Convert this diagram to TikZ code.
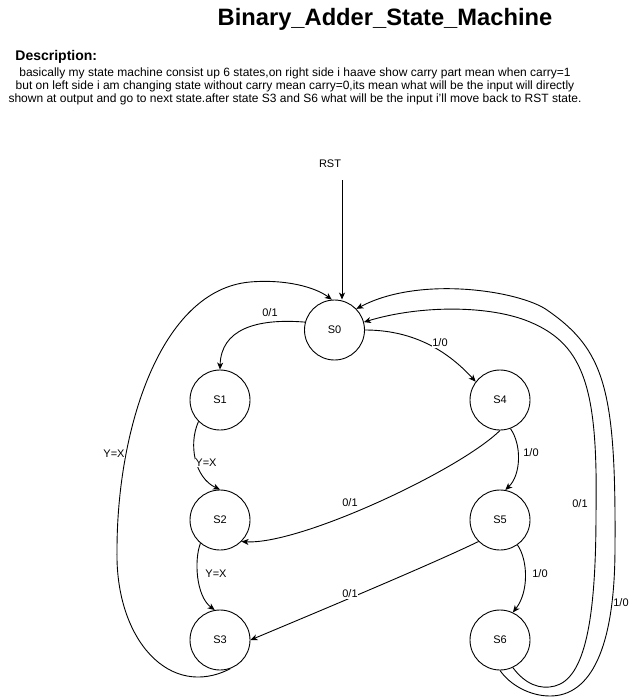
\documentclass[tikz,border=0pt]{standalone}
\usepackage{fontspec}
\setmainfont{Liberation Sans}
\usetikzlibrary{arrows.meta}

\begin{document}
\begin{tikzpicture}[x=1pt,y=-1pt,line width=0.9pt,
    state/.style={draw,circle,minimum size=60pt,inner sep=0pt,font=\fontsize{11}{13}\selectfont},
    trans/.style={-{Stealth[length=7pt,width=6pt,inset=2pt]}},
    lbl/.style={fill=white,inner sep=0.5pt,font=\fontsize{11}{13}\selectfont}]
    \useasboundingbox (0,0) rectangle (640,697);
    % heading
    \node[anchor=base,font=\bfseries\fontsize{23.7}{27}\selectfont] (title) at (385,25) {Binary\_Adder\_State\_Machine};
    \node[anchor=base west,inner sep=0pt,font=\bfseries\fontsize{14}{16}\selectfont] (deschead) at (15,60) {Description:};
    \node[align=center,inner sep=0pt,font=\fontsize{12}{13}\selectfont] (desc) at (295,86) {basically my state machine consist up 6 states,on right side i haave show carry part mean when carry=1\\but on left side i am changing state without carry mean carry=0,its mean what will be the input will directly\\shown at output and go to next state.after state S3 and S6 what will be the input i'll move back to RST state.};

    % states
    \node[state] (S0) at (334.5,330) {S0};
    \node[state] (S1) at (220,400) {S1};
    \node[state] (S2) at (220,520) {S2};
    \node[state] (S3) at (220,640) {S3};
    \node[state] (S4) at (500,400) {S4};
    \node[state] (S5) at (500,520) {S5};
    \node[state] (S6) at (500,640) {S6};
    \node[font=\fontsize{11}{13}\selectfont] (rst) at (330,164) {RST};
    \coordinate (rsttail) at (342,180);

    % transitions
    \draw[trans] (rsttail) -- (rsttail |- S0.north);
    \draw[trans] (S0.165) .. controls (255,318) and (221,330) .. (S1.north);
    \draw[trans] (S0.east) .. controls (410,330) and (445,348) .. (S4.143);
    \draw[trans] (S1.225) .. controls (188,445) and (195,478) .. (S2.north);
    \draw[trans] (S2.230) .. controls (194,560) and (196,596) .. (S3.100);
    \draw[trans] (S4.-70) .. controls (522,445) and (521,475) .. (S5.80);
    \draw[trans] (S5.-55) .. controls (528,560) and (529,592) .. (S6.65);
    \draw[trans] (S4.south) .. controls (460,470) and (300,545) .. (S2.-45);
    \draw[trans] (S5.-135) .. controls (430,565) and (310,615) .. (S3.east);
    \draw[trans] (S3.-70) .. controls (170,700) and (115,640) .. (117,550)
        .. controls (117,430) and (160,290) .. (250,282)
        .. controls (285,279) and (315,287) .. (S0.95);
    \draw[trans] (S6.-65) .. controls (525,684) and (540,690) .. (555,686)
        .. controls (585,678) and (596,620) .. (596,513)
        .. controls (598,390) and (585,345) .. (530,322)
        .. controls (490,305) and (420,305) .. (S0.15);
    \draw[trans] (S6.-90) .. controls (510,685) and (530,696) .. (550,696)
        .. controls (590,696) and (615,650) .. (615,547)
        .. controls (616,390) and (605,350) .. (547,310)
        .. controls (520,291) and (420,275) .. (S0.44);

    % labels
    \node[lbl] (l01) at (270,313) {0/1};
    \node[lbl] (l04) at (440,343) {1/0};
    \node[lbl] (l12) at (206,463) {Y=X};
    \node[lbl] (l23) at (216,574) {Y=X};
    \node[lbl] (l45) at (531,453) {1/0};
    \node[lbl] (l56) at (540,574) {1/0};
    \node[lbl] (l42) at (350,503) {0/1};
    \node[lbl] (l53) at (350,594) {0/1};
    \node[lbl] (l30) at (114,454) {Y=X};
    \node[lbl] (l60) at (580,504) {0/1};
    \node[lbl] (l60b) at (621,603) {1/0};
\end{tikzpicture}
\end{document}
